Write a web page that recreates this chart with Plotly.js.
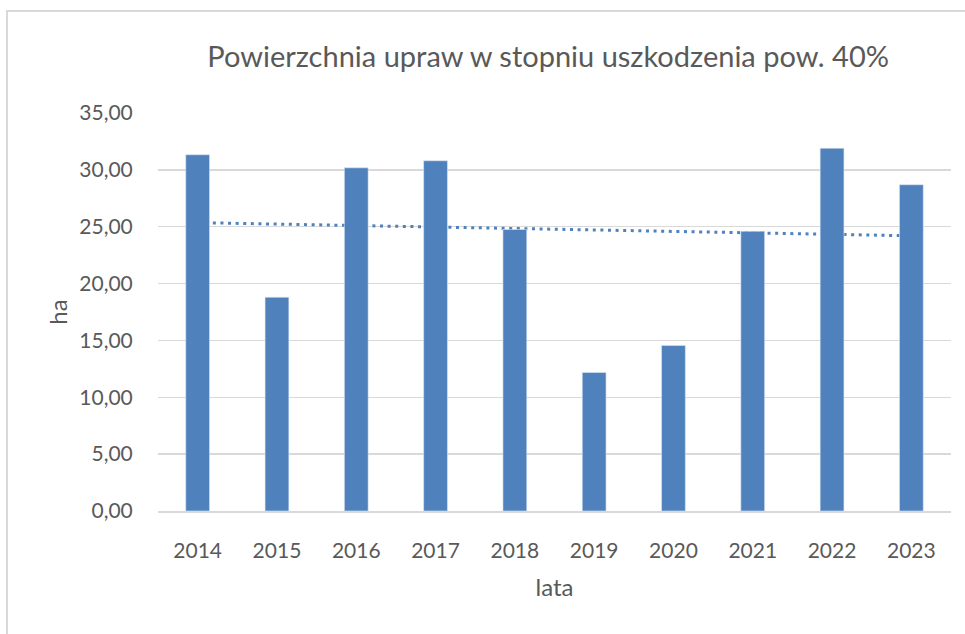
<!DOCTYPE html>
<html>
<head>
<meta charset="utf-8">
<script src="https://cdn.plot.ly/plotly-3.0.1.min.js"></script>
<style>html,body{margin:0;padding:0;background:#fff;}#chart{width:965px;height:634px;}</style>
</head>
<body>
<div id="chart"></div>
<script>
const years = ["2014","2015","2016","2017","2018","2019","2020","2021","2022","2023"];
const areaHa = [31.33, 18.80, 30.18, 30.80, 24.76, 12.18, 14.56, 24.60, 31.90, 28.69];
const yTicks = [0, 5, 10, 15, 20, 25, 30, 35];
const yTickLabels = ["0,00","5,00","10,00","15,00","20,00","25,00","30,00","35,00"];

// linear trendline (least squares), as Excel computes it
const n = areaHa.length;
const xs = areaHa.map((_, i) => i);
const mx = xs.reduce((a, b) => a + b, 0) / n;
const my = areaHa.reduce((a, b) => a + b, 0) / n;
let sxy = 0, sxx = 0;
for (let i = 0; i < n; i++) { sxy += (xs[i] - mx) * (areaHa[i] - my); sxx += (xs[i] - mx) ** 2; }
const slope = sxy / sxx;
const trend = xs.map(x => my + slope * (x - mx));

const FONT = "Lato, 'Open Sans', sans-serif";
const GREY = "#595959";
const BLUE = "#4f81bd";

const data = [
  {
    type: "scatter", mode: "lines", x: years, y: trend,
    line: {color: BLUE, width: 3, dash: "3px,4.6px"},
    hoverinfo: "skip", showlegend: false, xaxis: "x", yaxis: "y"
  },
  {
    type: "bar", x: years, y: areaHa,
    marker: {color: BLUE, line: {color: "#dbe5f1", width: 0.6}},
    showlegend: false, xaxis: "x2", yaxis: "y2"
  }
];

const layout = {
  width: 965, height: 634,
  margin: {l: 158, r: 14, t: 113, b: 123},
  paper_bgcolor: "#ffffff", plot_bgcolor: "#ffffff",
  font: {family: FONT, color: GREY, size: 21},
  bargap: 0.7,
  title: {
    text: "Powierzchnia upraw w stopniu uszkodzenia pow. 40%",
    font: {family: FONT, size: 29, color: GREY},
    xref: "paper", x: 0.492, xanchor: "center",
    yref: "container", y: 0.91, yanchor: "middle"
  },
  xaxis: {
    type: "category", categoryorder: "array", categoryarray: years,
    showgrid: false, zeroline: false,
    showline: true, linecolor: "#d9d9d9", linewidth: 1.5,
    ticks: "outside", ticklen: 20, tickcolor: "rgba(0,0,0,0)",
    tickfont: {family: FONT, size: 21, color: GREY},
    title: {text: "lata", font: {family: FONT, size: 24, color: GREY}, standoff: 18},
    fixedrange: true
  },
  yaxis: {
    range: [0, 35], tickvals: yTicks, ticktext: yTickLabels,
    showgrid: true, gridcolor: "#d9d9d9", gridwidth: 1.5,
    zeroline: false, showline: false,
    ticks: "outside", ticklen: 20, tickcolor: "rgba(0,0,0,0)",
    tickfont: {family: FONT, size: 21, color: GREY},
    title: {text: "ha", font: {family: FONT, size: 24, color: GREY}, standoff: 4},
    fixedrange: true
  },
  xaxis2: {type: "category", categoryorder: "array", categoryarray: years, overlaying: "x", matches: "x", visible: false},
  yaxis2: {range: [0, 35], overlaying: "y", matches: "y", visible: false},
  shapes: [{
    type: "rect", xref: "paper", yref: "paper",
    x0: -0.1904, x1: 1.03, y0: -0.34, y1: 1.2563,
    line: {color: "#d9d9d9", width: 2}, fillcolor: "rgba(0,0,0,0)", layer: "below"
  }]
};

Plotly.newPlot("chart", data, layout, {displayModeBar: false, staticPlot: true});
</script>
</body>
</html>
